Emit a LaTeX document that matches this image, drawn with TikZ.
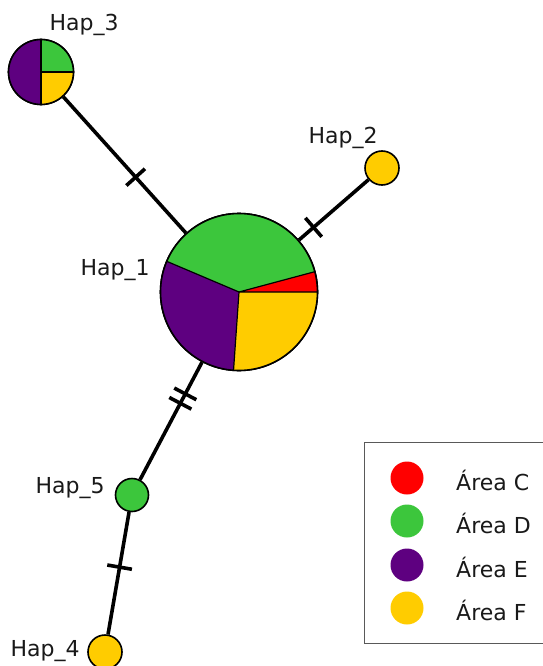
\documentclass[tikz,border=0pt]{standalone}
\usepackage{fontspec}
\setmainfont{DejaVu Sans}
\definecolor{cC}{RGB}{255,0,0}
\definecolor{cD}{RGB}{60,198,60}
\definecolor{cE}{RGB}{94,0,128}
\definecolor{cF}{RGB}{255,204,0}
\definecolor{txt}{RGB}{25,25,25}
\begin{document}
\begin{tikzpicture}[x=1pt,y=-1pt,
  hap/.style={circle, draw=black, line width=1.6pt, inner sep=0pt, minimum size=#1},
  edge/.style={line width=3.6pt, black},
  tickmark/.style={rectangle, fill=black, inner sep=0pt, outer sep=0pt, minimum width=3.6pt, minimum height=25pt},
  lab/.style={font=\fontsize{22}{26}\selectfont, text=txt, inner sep=0pt},
  slice/.style={draw=black, line width=1.2pt},
  legdot/.style={circle, inner sep=0pt, minimum size=33pt}]
\useasboundingbox (0,0) rectangle (542,666);
\fill[white] (0,0) rectangle (542,666);

% nodes
\node[hap=157pt] (h1) at (239,292) {};
\node[hap=65pt] (h3) at (41,72) {};
\node[hap=34pt, fill=cF] (h2) at (382,168) {};
\node[hap=33pt, fill=cD] (h5) at (132,495) {};
\node[hap=34pt, fill=cF] (h4) at (105,652) {};

% pie Hap_1 (angles clockwise from +x because y points down)
\fill[cD] (239,292) -- ++(-157:78.5) arc[start angle=-157, end angle=-15, radius=78.5] -- cycle;
\fill[cE] (239,292) -- ++(-266:78.5) arc[start angle=-266, end angle=-157, radius=78.5] -- cycle;
\fill[cF] (239,292) -- ++(0:78.5) arc[start angle=0, end angle=94, radius=78.5] -- cycle;
\fill[cC] (239,292) -- ++(-15:78.5) arc[start angle=-15, end angle=0, radius=78.5] -- cycle;
\draw[slice] (239,292) -- ++(-157:78.5) (239,292) -- ++(94:78.5)
             (239,292) -- ++(0:78.5) (239,292) -- ++(-15:78.5);
\draw[line width=1.6pt] (239,292) circle[radius=78.5];

% pie Hap_3
\fill[cE] (41,72) -- ++(90:32.5) arc[start angle=90, end angle=270, radius=32.5] -- cycle;
\fill[cD] (41,72) -- ++(-90:32.5) arc[start angle=-90, end angle=0, radius=32.5] -- cycle;
\fill[cF] (41,72) -- ++(0:32.5) arc[start angle=0, end angle=90, radius=32.5] -- cycle;
\draw[slice] (41,72) ++(0,-32.5) -- ++(0,65) (41,72) -- ++(0:32.5);
\draw[line width=1.6pt] (41,72) circle[radius=32.5];

% edges
\draw[edge] (h3) -- node[tickmark, pos=0.59, sloped] {} (h1);
\draw[edge] (h2) -- node[tickmark, pos=0.79, sloped] {} (h1);
\draw[edge] (h1) -- node[tickmark, pos=0.27, sloped] {} node[tickmark, pos=0.35, sloped] {} (h5);
\draw[edge] (h5) -- node[tickmark, pos=0.45, sloped] {} (h4);

% labels
\node[lab] (l3) at (84,25) {Hap\_3};
\node[lab] (l2) at (343,138) {Hap\_2};
\node[lab] (l1) at (115,270) {Hap\_1};
\node[lab] (l5) at (70,488) {Hap\_5};
\node[lab] (l4) at (45,651) {Hap\_4};

% legend
\node[draw=black!65, line width=1.3pt, rectangle, minimum width=190pt, minimum height=201pt, anchor=north west, inner sep=0pt] (leg) at (364,442) {};
\node[legdot, fill=cC] (dC) at (407,478) {};
\node[legdot, fill=cD] (dD) at (407,521) {};
\node[legdot, fill=cE] (dE) at (407,565) {};
\node[legdot, fill=cF] (dF) at (407,608) {};
\node[lab, anchor=west] (tC) at (456,480) {Área C};
\node[lab, anchor=west] (tD) at (456,523) {Área D};
\node[lab, anchor=west] (tE) at (456,567) {Área E};
\node[lab, anchor=west] (tF) at (456,610) {Área F};
\end{tikzpicture}
\end{document}
